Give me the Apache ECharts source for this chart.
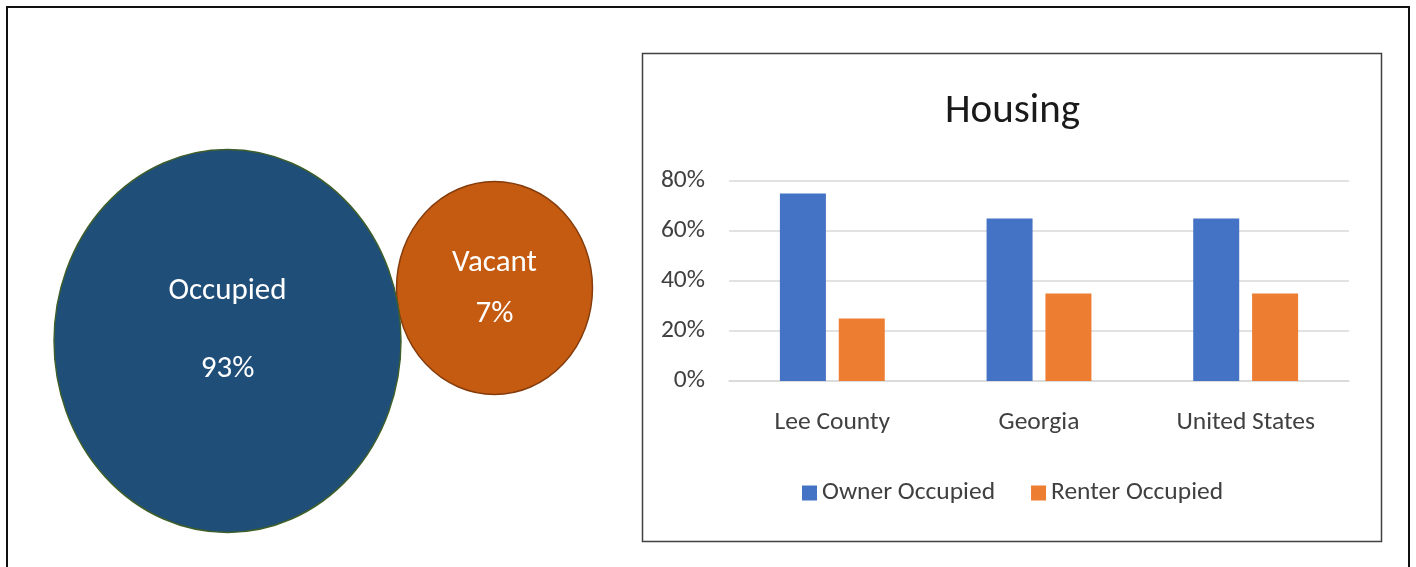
<!DOCTYPE html>
<html>
<head>
<meta charset="utf-8">
<script src="https://cdn.jsdelivr.net/npm/echarts@6/dist/echarts.min.js"></script>
<style>
html,body{margin:0;padding:0;background:#fff;}
#main{width:1416px;height:567px;}
</style>
</head>
<body>
<div id="main"></div>
<script>
// ---- data ----
const circleNames = ['Occupied', 'Vacant'];
const circleValues = [93, 7];
const categories = ['Lee County', 'Georgia', 'United States'];
const ownerValues = [75, 65, 65];
const renterValues = [25, 35, 35];
const seriesNames = ['Owner Occupied', 'Renter Occupied'];
const chartTitle = 'Housing';

const FONT = 'Carlito, Lato, "Open Sans", sans-serif';
const FS = 25.5;
const chart = echarts.init(document.getElementById('main'));

const circleStyles = {
  Occupied: { size: [347, 383], offset: [0, 0], fill: '#1F4E79', stroke: '#3F5F2A', lineHeight: 78, labelOffset: [0, -11] },
  Vacant: { size: [196, 213], offset: [0, -53], fill: '#C55A11', stroke: '#843C0C', lineHeight: 51, labelOffset: [0, 1] }
};

// draw Vacant first so Occupied overlaps it
const order = [1, 0];
const circleData = order.map(i => {
  const n = circleNames[i];
  const s = circleStyles[n];
  return {
    name: n,
    value: [n, 0, circleValues[i]],
    symbolSize: s.size,
    symbolOffset: s.offset,
    itemStyle: { color: s.fill, borderColor: s.stroke, borderWidth: 1.5, opacity: 1 },
    label: {
      show: true,
      position: 'inside',
      offset: s.labelOffset,
      formatter: p => p.name + '\n' + p.value[2] + '%',
      color: '#ffffff',
      fontSize: 31,
      fontFamily: FONT,
      lineHeight: s.lineHeight
    }
  };
});

chart.setOption({
  animation: false,
  backgroundColor: '#ffffff',
  graphic: [
    { type: 'rect', shape: { x: 7, y: 7, width: 1402, height: 600 }, style: { fill: 'none', stroke: '#111', lineWidth: 2 }, z: 0 },
    { type: 'rect', shape: { x: 642.5, y: 53.5, width: 739, height: 488 }, style: { fill: 'none', stroke: '#404040', lineWidth: 1.5 }, z: 0 },
    { type: 'text', left: 945, top: 91, style: { text: chartTitle, fontSize: 41, fontFamily: FONT, fill: '#1a1a1a' } }
  ],
  legend: {
    data: seriesNames,
    left: 797,
    top: 475,
    icon: 'rect',
    itemWidth: 15,
    itemHeight: 15,
    itemGap: 36,
    textStyle: { fontSize: FS, fontFamily: FONT, color: '#404040' }
  },
  grid: [
    { left: 94, width: 534, top: 241, height: 200, containLabel: false },
    { left: 729, right: 67, top: 181, bottom: 186, containLabel: false }
  ],
  xAxis: [
    { gridIndex: 0, type: 'category', data: circleNames, show: false },
    {
      gridIndex: 1, type: 'category', data: categories,
      axisLine: { lineStyle: { color: '#D9D9D9', width: 1.5 } },
      axisTick: { show: false },
      axisLabel: { fontSize: FS, fontFamily: FONT, color: '#404040', margin: 29 }
    }
  ],
  yAxis: [
    { gridIndex: 0, type: 'value', min: -1, max: 1, show: false },
    {
      gridIndex: 1, type: 'value', min: 0, max: 80, interval: 20,
      axisLine: { show: false }, axisTick: { show: false },
      splitLine: { lineStyle: { color: '#D9D9D9', width: 1.5 } },
      axisLabel: { formatter: '{value}%', fontSize: FS, fontFamily: FONT, color: '#404040', margin: 24 }
    }
  ],
  series: [
    {
      type: 'scatter', xAxisIndex: 0, yAxisIndex: 0, symbol: 'circle',
      data: circleData, z: 3,
      emphasis: { disabled: true }
    },
    {
      name: seriesNames[0], type: 'bar', xAxisIndex: 1, yAxisIndex: 1,
      data: ownerValues, barWidth: 46, barGap: '28%',
      itemStyle: { color: '#4472C4' }
    },
    {
      name: seriesNames[1], type: 'bar', xAxisIndex: 1, yAxisIndex: 1,
      data: renterValues, barWidth: 46, barGap: '28%',
      itemStyle: { color: '#ED7D31' }
    }
  ]
});
</script>
</body>
</html>
